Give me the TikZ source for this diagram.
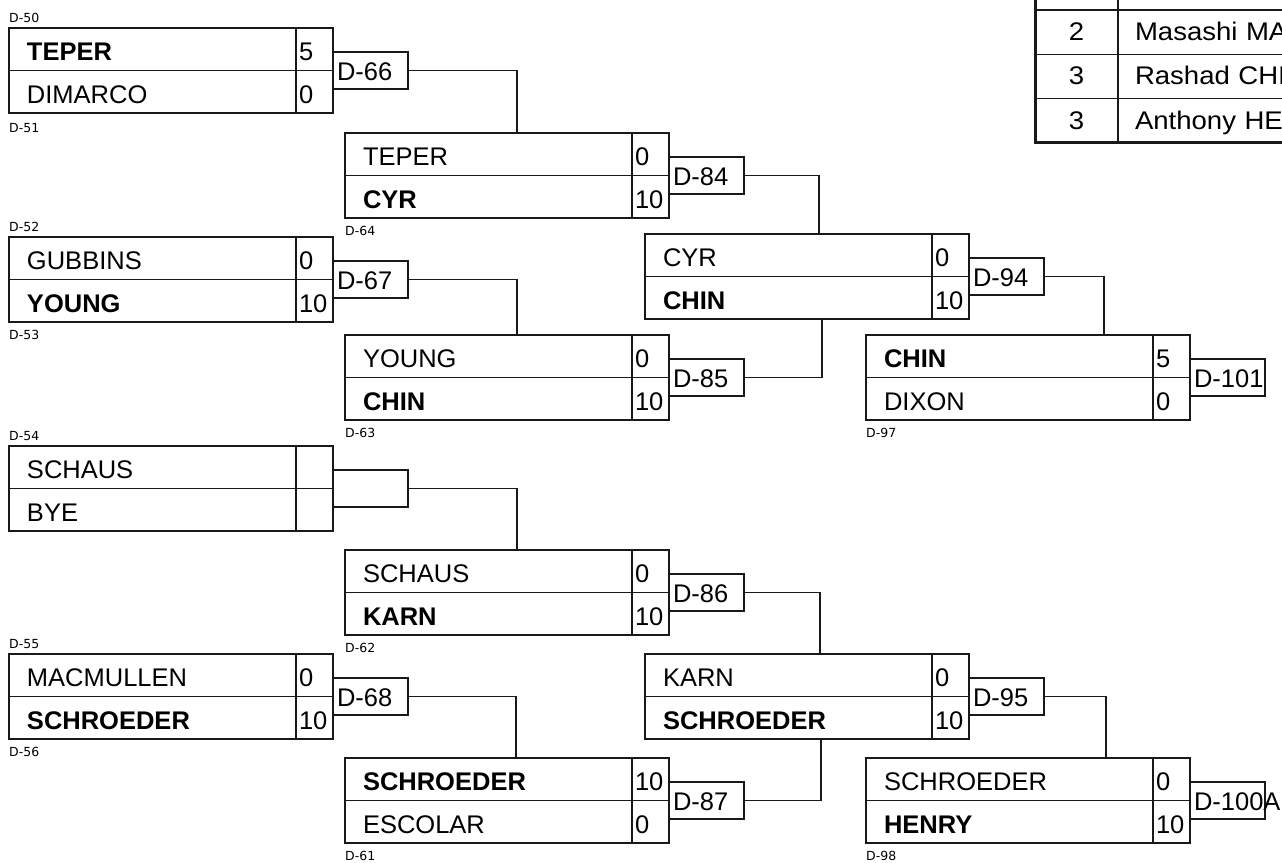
\documentclass[tikz,border=0pt]{standalone}
\usepackage{fontspec}
\setmainfont{Liberation Sans}
\newfontfamily\seedfont{DejaVu Sans}
\newfontfamily\tablefont[FakeStretch=1.08]{Liberation Sans}
\usetikzlibrary{calc,positioning}
\definecolor{bracketInk}{RGB}{25,25,25}
\tikzset{
  namecell/.style={draw=bracketInk,line width=1.3pt,rectangle,outer sep=0pt,
    inner xsep=18pt,inner ysep=0pt,minimum width=287pt,minimum height=42.5pt,
    text width=251pt,align=left,text height=25pt,text depth=2.5pt,
    font=\fontsize{25.5}{28}\selectfont},
  scorecell/.style={namecell,minimum width=37pt,inner xsep=3pt,text width=31pt},
  tagbox/.style={draw=bracketInk,line width=1.3pt,rectangle,outer sep=0pt,
    inner xsep=4pt,inner ysep=0pt,minimum width=75pt,minimum height=37pt,
    text width=67pt,align=left,text height=21pt,text depth=2pt,
    font=\fontsize{25.5}{28}\selectfont},
  seedtag/.style={font=\seedfont\fontsize{12.5}{14}\selectfont,inner sep=0pt,anchor=base west},
  wire/.style={draw=bracketInk,line width=1.3pt},
  rankcell/.style={namecell,minimum width=83pt,minimum height=44.3pt,inner xsep=0pt,
    text width=83pt,align=center,text height=19pt,text depth=2.5pt,
    font=\tablefont\fontsize{25.5}{28}\selectfont},
  playercell/.style={rankcell,minimum width=280pt,inner xsep=17pt,
    text width=246pt,align=left}
}
% one match: id, x, y, top player, top score, bottom player, bottom score, tag
\newcommand{\MatchBox}[8]{%
  \node[namecell,anchor=north west] (#1-t) at (#2,#3) {#4};
  \node[scorecell,anchor=north west] (#1-ts) at (#1-t.north east) {#5};
  \node[namecell,anchor=north west] (#1-b) at (#1-t.south west) {#6};
  \node[scorecell,anchor=north west] (#1-bs) at (#1-b.north east) {#7};
  \node[tagbox,anchor=west] (#1-tag) at (#1-ts.south east) {\mbox{#8}};
}

\begin{document}
\begin{tikzpicture}[x=1pt,y=-1pt]
\useasboundingbox (0,0) rectangle (1282,862);
\clip (0,0) rectangle (1282,862);

% first round
\MatchBox{m66}{9}{28}{\textbf{TEPER}}{5}{DIMARCO}{0}{D-66}
\MatchBox{m67}{9}{237}{GUBBINS}{0}{\textbf{YOUNG}}{10}{D-67}
\MatchBox{mbye}{9}{446}{SCHAUS}{}{BYE}{}{}
\MatchBox{m68}{9}{654}{MACMULLEN}{0}{\textbf{SCHROEDER}}{10}{D-68}

% second round
\MatchBox{m84}{345}{133}{TEPER}{0}{\textbf{CYR}}{10}{D-84}
\MatchBox{m85}{345}{335}{YOUNG}{0}{\textbf{CHIN}}{10}{D-85}
\MatchBox{m86}{345}{550}{SCHAUS}{0}{\textbf{KARN}}{10}{D-86}
\MatchBox{m87}{345}{758}{\textbf{SCHROEDER}}{10}{ESCOLAR}{0}{D-87}

% third round
\MatchBox{m94}{645}{234}{CYR}{0}{\textbf{CHIN}}{10}{D-94}
\MatchBox{m95}{645}{654}{KARN}{0}{\textbf{SCHROEDER}}{10}{D-95}

% fourth round
\MatchBox{m101}{866}{335}{\textbf{CHIN}}{5}{DIXON}{0}{D-101}
\MatchBox{m100}{866}{758}{SCHROEDER}{0}{\textbf{HENRY}}{10}{D-100A}

% small tags
\node[seedtag] (s50) at ([yshift=6pt]m66-t.north west) {D-50};
\node[seedtag] (s51) at ([yshift=-19pt]m66-b.south west) {D-51};
\node[seedtag] (s52) at ([yshift=6pt]m67-t.north west) {D-52};
\node[seedtag] (s53) at ([yshift=-17pt]m67-b.south west) {D-53};
\node[seedtag] (s54) at ([yshift=6pt]mbye-t.north west) {D-54};
\node[seedtag] (s55) at ([yshift=6pt]m68-t.north west) {D-55};
\node[seedtag] (s56) at ([yshift=-17pt]m68-b.south west) {D-56};
\node[seedtag] (s64) at ([yshift=-17pt]m84-b.south west) {D-64};
\node[seedtag] (s63) at ([yshift=-17pt]m85-b.south west) {D-63};
\node[seedtag] (s62) at ([yshift=-17pt]m86-b.south west) {D-62};
\node[seedtag] (s61) at ([yshift=-17pt]m87-b.south west) {D-61};
\node[seedtag] (s97) at ([yshift=-17pt]m101-b.south west) {D-97};
\node[seedtag] (s98) at ([yshift=-17pt]m100-b.south west) {D-98};

% wires
\draw[wire] (m66-tag.east) -| ([xshift=172pt]m84-t.north west);
\draw[wire] (m67-tag.east) -| ([xshift=172pt]m85-t.north west);
\draw[wire] (mbye-tag.east) -| ([xshift=172pt]m86-t.north west);
\draw[wire] (m68-tag.east) -| ([xshift=171pt]m87-t.north west);
\draw[wire] (m84-tag.east) -| ([xshift=174pt]m94-t.north west);
\draw[wire] (m85-tag.east) -| ([xshift=177pt]m94-b.south west);
\draw[wire] (m86-tag.east) -| ([xshift=175pt]m95-t.north west);
\draw[wire] (m87-tag.east) -| ([xshift=176pt]m95-b.south west);
\draw[wire] (m94-tag.east) -| ([xshift=238pt]m101-t.north west);
\draw[wire] (m95-tag.east) -| ([xshift=240pt]m100-t.north west);

% standings
\node[rankcell,anchor=north west] (rk0) at (1035,-34.3) {};
\node[playercell,anchor=north west] (pl0) at (rk0.north east) {};
\node[rankcell,anchor=north west] (rk1) at (rk0.south west) {2};
\node[playercell,anchor=north west] (pl1) at (rk1.north east) {Masashi MA};
\node[rankcell,anchor=north west] (rk2) at (rk1.south west) {3};
\node[playercell,anchor=north west] (pl2) at (rk2.north east) {Rashad CHI};
\node[rankcell,anchor=north west] (rk3) at (rk2.south west) {3};
\node[playercell,anchor=north west] (pl3) at (rk3.north east) {Anthony HE};
\draw[bracketInk,line width=3pt] (rk0.north west) rectangle (pl3.south east);
\end{tikzpicture}
\end{document}
